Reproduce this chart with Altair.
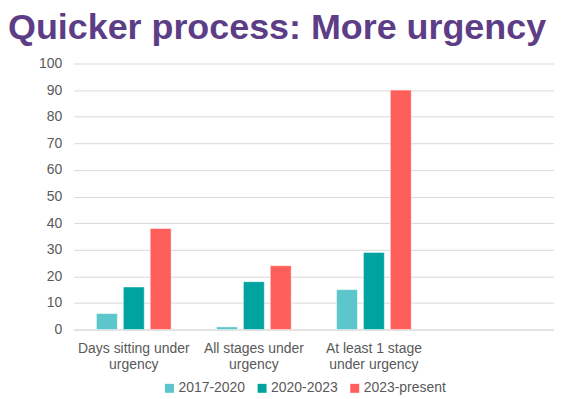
import altair as alt
import pandas as pd

categories = ["Days sitting under\nurgency", "All stages under\nurgency", "At least 1 stage\nunder urgency", " "]
series = ["2017-2020", "2020-2023", "2023-present"]
values = {
    "2017-2020": [6, 1, 15],
    "2020-2023": [16, 18, 29],
    "2023-present": [38, 24, 90],
}
colors = ["#5BC6CC", "#00A3A0", "#FF5F5A"]
y_ticks = list(range(0, 101, 10))

rows = []
for s in series:
    for c, v in zip(categories[:3], values[s]):
        rows.append({"category": c, "series": s, "value": v})
df = pd.DataFrame(rows)

FONT = "Liberation Sans"
GRAY = "#595959"

chart = alt.Chart(df).mark_bar(stroke="#FFFFFF", strokeOpacity=0.6, strokeWidth=0.8).encode(
    x=alt.X(
        "category:N",
        sort=categories,
        scale=alt.Scale(domain=categories, paddingInner=0.328, paddingOuter=0.164),
        axis=alt.Axis(
            title=None,
            labelAngle=0,
            labelExpr="split(datum.label, '\\n')",
            labelFont=FONT,
            labelFontSize=14,
            labelColor=GRAY,
            labelLineHeight=16,
            labelPadding=12,
            ticks=False,
            domainColor="#D9D9D9",
            grid=False,
        ),
    ),
    xOffset=alt.XOffset("series:N", sort=series, scale=alt.Scale(paddingInner=0.222, paddingOuter=0.111)),
    y=alt.Y(
        "value:Q",
        scale=alt.Scale(domain=[0, 100]),
        axis=alt.Axis(
            title=None,
            values=y_ticks,
            labelFont=FONT,
            labelFontSize=14,
            labelColor=GRAY,
            labelPadding=12,
            ticks=False,
            domain=False,
            gridColor="#D9D9D9",
            gridWidth=1,
        ),
    ),
    color=alt.Color(
        "series:N",
        sort=series,
        scale=alt.Scale(domain=series, range=colors),
        legend=alt.Legend(
            title=None,
            orient="none",
            legendX=89,
            legendY=319,
            direction="horizontal",
            symbolType="square",
            symbolSize=81,
            symbolStrokeWidth=0,
            labelFont=FONT,
            labelFontSize=14,
            labelColor=GRAY,
            labelOffset=2,
            columnPadding=10,
        ),
    ),
).properties(
    width=482,
    height=267,
    autosize=alt.AutoSizeParams(type="none"),
    padding={"left": 66, "top": 55, "right": 0, "bottom": 68},
    title=alt.TitleParams(
        "Quicker process: More urgency",
        font=FONT,
        fontSize=36,
        fontWeight="bold",
        color="#5C3D86",
        anchor="start",
        frame="group",
        dx=-66,
        offset=10,
    ),
).configure_view(stroke=None)

chart.save("out.html", embed_options={"renderer": "svg", "actions": False})
